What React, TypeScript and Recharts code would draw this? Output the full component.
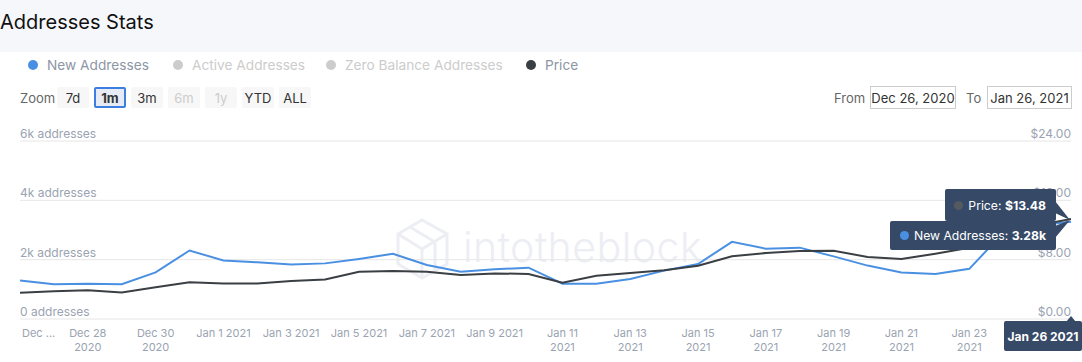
import React from "react";
import { LineChart, Line, XAxis, YAxis, CartesianGrid, Tooltip } from "recharts";

const dates = [
  "Dec 26 2020", "Dec 27 2020", "Dec 28 2020", "Dec 29 2020", "Dec 30 2020", "Dec 31 2020",
  "Jan 1 2021", "Jan 2 2021", "Jan 3 2021", "Jan 4 2021", "Jan 5 2021", "Jan 6 2021",
  "Jan 7 2021", "Jan 8 2021", "Jan 9 2021", "Jan 10 2021", "Jan 11 2021", "Jan 12 2021",
  "Jan 13 2021", "Jan 14 2021", "Jan 15 2021", "Jan 16 2021", "Jan 17 2021", "Jan 18 2021",
  "Jan 19 2021", "Jan 20 2021", "Jan 21 2021", "Jan 22 2021", "Jan 23 2021", "Jan 24 2021",
  "Jan 25 2021", "Jan 26 2021",
];

const newAddresses = [
  1300, 1170, 1190, 1170, 1570, 2310,
  1970, 1910, 1840, 1875, 2025, 2200,
  1820, 1595, 1675, 1730, 1190, 1190,
  1350, 1630, 1855, 2600, 2370, 2405,
  2110, 1800, 1570, 1520, 1690, 2900,
  3150, 3280,
];

const prices = [
  3.55, 3.73, 3.86, 3.59, 4.27, 4.94,
  4.8, 4.8, 5.13, 5.34, 6.38, 6.47,
  6.38, 5.94, 6.15, 6.07, 4.9, 5.84,
  6.21, 6.56, 7.19, 8.45, 8.9, 9.17,
  9.21, 8.36, 8.09, 8.81, 9.6, 11.2,
  12.6, 13.48,
];

const addressTicks = [0, 2000, 4000, 6000];
const priceTicks = [0, 8, 16, 24];

const legendItems = [
  { name: "New Addresses", color: "#4a90e2", on: true },
  { name: "Active Addresses", color: "#cccccc", on: false },
  { name: "Zero Balance Addresses", color: "#cccccc", on: false },
  { name: "Price", color: "#3a3f44", on: true },
];
const legendLeft = [28, 173, 326, 526];

const zoomButtons = ["7d", "1m", "3m", "6m", "1y", "YTD", "ALL"];
const disabledButtons = ["6m", "1y"];

const BLUE = "#4a90e2";
const DARK = "#3a3f44";
const TIP = "#364a68";
const AXIS_TEXT = "#9aa3b1";
const FONT = "Inter, 'Noto Sans', sans-serif";

const data = dates.map((d, i) => ({ date: d, newAddresses: newAddresses[i], price: prices[i] }));

function LeftTick(props: any) {
  const { x, y, payload } = props;
  const v = payload.value === 0 ? "0" : `${payload.value / 1000}k`;
  return (
    <text x={x} y={y - 3} fill={AXIS_TEXT} fontSize={12} fontFamily={FONT} textAnchor="start">
      {v} addresses
    </text>
  );
}

function RightTick(props: any) {
  const { x, y, payload } = props;
  return (
    <text x={x} y={y - 3} fill={AXIS_TEXT} fontSize={12} fontFamily={FONT} textAnchor="end">
      ${payload.value.toFixed(2)}
    </text>
  );
}

function DateTick(props: any) {
  const { x, y, payload, index } = props;
  const label: string = payload.value;
  // the last labelled day sits under the date tooltip, as in the reference
  if (label === "Jan 25 2021") return null;
  if (index === 0) {
    return (
      <text x={x + 2} y={y + 18} fill={AXIS_TEXT} fontSize={11} fontFamily={FONT}>
        {label.split(" ")[0]} ...
      </text>
    );
  }
  if (label.length <= 10) {
    return (
      <text x={x} y={y + 18} fill={AXIS_TEXT} fontSize={11} fontFamily={FONT} textAnchor="middle">
        {label}
      </text>
    );
  }
  const parts = label.split(" ");
  return (
    <text x={x} y={y + 18} fill={AXIS_TEXT} fontSize={11} fontFamily={FONT} textAnchor="middle">
      <tspan x={x}>{parts[0]} {parts[1]}</tspan>
      <tspan x={x} dy={14}>{parts[2]}</tspan>
    </text>
  );
}

function SplitTooltip({ active, payload, label }: any) {
  if (!active || !payload || !payload.length) return null;
  const price = payload.find((p: any) => p.dataKey === "price");
  const addr = payload.find((p: any) => p.dataKey === "newAddresses");
  const box: React.CSSProperties = {
    position: "absolute",
    background: TIP,
    color: "#fff",
    fontSize: 12.2,
    fontFamily: FONT,
    borderRadius: 2,
    display: "flex",
    alignItems: "center",
    boxSizing: "border-box",
    whiteSpace: "nowrap",
  };
  const dot = (c: string) => (
    <span
      style={{ display: "inline-block", flexShrink: 0, width: 9, height: 9, borderRadius: 5, background: c, marginRight: 5 }}
    />
  );
  return (
    <div style={{ position: "relative", width: 1082, height: 242, pointerEvents: "none" }}>
      <svg width={1082} height={242} style={{ position: "absolute", left: 0, top: 0 }}>
        <polygon points="1055,81 1070,100 1055,93" fill={TIP} />
        <polygon points="1055,106 1070,100 1055,118" fill={TIP} />
        <polygon points="1066,202 1071,196 1076,202" fill={TIP} />
      </svg>
      <div style={{ ...box, right: 26, top: 101, height: 29, padding: "0 10px 0 10px" }}>
        {dot(BLUE)}
        <span>New Addresses:&nbsp;</span>
        <b>{(addr.value / 1000).toFixed(2)}k</b>
      </div>
      <div style={{ ...box, right: 26, top: 69, height: 32, padding: "0 10px 0 9px" }}>
        {dot("#555a60")}
        <span>Price:&nbsp;</span>
        <b>${price.value.toFixed(2)}</b>
      </div>
      <div
        style={{
          ...box,
          left: 1004,
          top: 201,
          width: 78,
          height: 30,
          justifyContent: "center",
          fontSize: 12,
          fontWeight: 700,
        }}
      >
        {label}
      </div>
    </div>
  );
}

function Watermark() {
  return (
    <div style={{ position: "absolute", left: 395, top: 216, width: 320, height: 66 }}>
      <svg width={56} height={66} style={{ position: "absolute", left: 0, top: 0 }}>
        <g fill="none" stroke="#eceef3" strokeWidth={3}>
          <polygon points="27,4 52,18 52,48 27,62 3,48 3,18" />
          <polyline points="3,18 27,33 52,18" />
          <line x1={27} y1={33} x2={27} y2={62} />
          <polyline points="15,11 40,26 40,55" />
        </g>
      </svg>
      <div
        style={{
          position: "absolute",
          left: 68,
          top: 6,
          fontFamily: FONT,
          fontSize: 41,
          fontWeight: 300,
          color: "#eceef3",
          letterSpacing: 0.5,
        }}
      >
        intotheblock
      </div>
    </div>
  );
}

const inputBox: React.CSSProperties = {
  position: "absolute",
  top: 86,
  height: 23,
  boxSizing: "border-box",
  border: "1px solid #cccccc",
  fontSize: 13,
  color: "#333",
  display: "flex",
  alignItems: "center",
  justifyContent: "center",
};

export default function App() {
  return (
    <div
      style={{
        position: "absolute",
        left: 0,
        top: 0,
        width: 1082,
        height: 362,
        background: "#fff",
        fontFamily: FONT,
        overflow: "hidden",
      }}
    >
      <div style={{ position: "absolute", left: 0, top: 0, width: 1082, height: 52, background: "#f6f7fb" }} />
      <div style={{ position: "absolute", left: 0, top: 11, fontSize: 20, lineHeight: "22px", color: "#111" }}>
        Addresses Stats
      </div>

      {/* legend */}
      {legendItems.map((it, i) => (
        <div
          key={it.name}
          style={{ position: "absolute", left: legendLeft[i], top: 55, height: 20, display: "flex", alignItems: "center" }}
        >
          <span style={{ width: 10, height: 10, borderRadius: 5, background: it.color, marginRight: 9 }} />
          <span style={{ fontSize: 13.7, color: it.on ? "#8c96a5" : "#cccccc" }}>{it.name}</span>
        </div>
      ))}

      {/* zoom buttons */}
      <div style={{ position: "absolute", left: 20, top: 90, fontSize: 13, color: "#666" }}>Zoom</div>
      {zoomButtons.map((b, i) => {
        const sel = b === "1m";
        const off = disabledButtons.includes(b);
        return (
          <div
            key={b}
            style={{
              position: "absolute",
              left: 57 + i * 37,
              top: 87,
              width: 32,
              height: 21,
              boxSizing: "border-box",
              borderRadius: 2,
              background: sel ? "#e6ebf5" : "#f7f7f7",
              border: sel ? "2px solid #3d7fe0" : "none",
              fontSize: 13,
              fontWeight: sel ? 700 : 400,
              color: off ? "#cccccc" : "#333",
              display: "flex",
              alignItems: "center",
              justifyContent: "center",
            }}
          >
            {b}
          </div>
        );
      })}

      {/* range inputs */}
      <div style={{ position: "absolute", left: 834, top: 90, fontSize: 13, color: "#666" }}>From</div>
      <div style={{ ...inputBox, left: 870, width: 86 }}>Dec 26, 2020</div>
      <div style={{ position: "absolute", left: 966, top: 90, fontSize: 13, color: "#666" }}>To</div>
      <div style={{ ...inputBox, left: 987, width: 85 }}>Jan 26, 2021</div>

      <Watermark />

      <div style={{ position: "absolute", left: 0, top: 120 }}>
        <LineChart width={1082} height={242} data={data} margin={{ top: 21, right: 10, left: 19, bottom: 0 }}>
          <CartesianGrid yAxisId="a" vertical={false} stroke="#e6e6e6" />
          <XAxis
            dataKey="date"
            interval={1}
            axisLine={false}
            tickLine={false}
            tickSize={0}
            tickMargin={0}
            height={43}
            tick={(p: any) => <DateTick {...p} />}
          />
          <YAxis
            yAxisId="a"
            domain={[0, 6000]}
            ticks={addressTicks}
            width={1}
            axisLine={false}
            tickLine={false}
            tickSize={0}
            tickMargin={0}
            tick={(p: any) => <LeftTick {...p} />}
          />
          <YAxis
            yAxisId="p"
            orientation="right"
            domain={[0, 24]}
            ticks={priceTicks}
            width={1}
            axisLine={false}
            tickLine={false}
            tickSize={0}
            tickMargin={0}
            tick={(p: any) => <RightTick {...p} />}
          />
          <Tooltip
            content={<SplitTooltip />}
            defaultIndex={dates.length - 1}
            active
            cursor={false}
            position={{ x: 0, y: 0 }}
            isAnimationActive={false}
            wrapperStyle={{ zIndex: 5 }}
          />
          <Line
            yAxisId="a"
            dataKey="newAddresses"
            stroke={BLUE}
            strokeWidth={2}
            dot={false}
            activeDot={false}
            isAnimationActive={false}
          />
          <Line
            yAxisId="p"
            dataKey="price"
            stroke={DARK}
            strokeWidth={2}
            dot={false}
            activeDot={false}
            isAnimationActive={false}
          />
        </LineChart>
      </div>
    </div>
  );
}
